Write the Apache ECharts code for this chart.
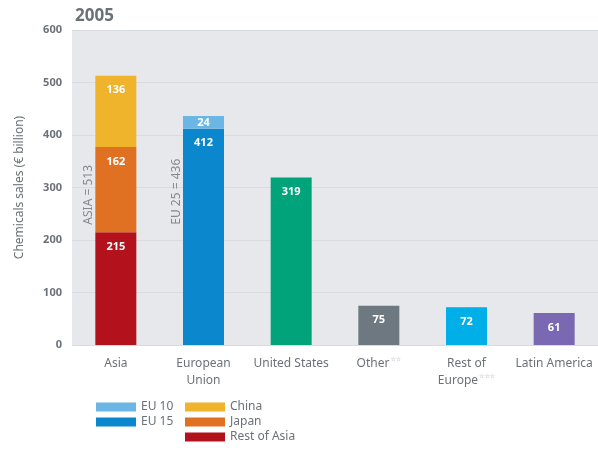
<!DOCTYPE html>
<html>
<head>
<meta charset="utf-8">
<script src="https://cdn.jsdelivr.net/npm/echarts@6/dist/echarts.min.js"></script>
<style>html,body{margin:0;padding:0;background:#fff}#c{width:598px;height:452px}</style>
</head>
<body>
<div id="c"></div>
<script>
const categories = ['Asia', 'European\nUnion', 'United States', 'Other{s|☆☆}', 'Rest of\nEurope{s|☆☆☆}', 'Latin America'];
const restOfAsia = [215, '-', '-', '-', '-', '-'];
const japan = [162, '-', '-', '-', '-', '-'];
const china = [136, '-', '-', '-', '-', '-'];
const eu15 = ['-', 412, '-', '-', '-', '-'];
const eu10 = ['-', 24, '-', '-', '-', '-'];
const singles = ['-', '-', 319, 75, 72, 61];
const singleColors = [null, null, '#00a37a', '#6e7880', '#00aee8', '#7a69b2'];
const yTicks = { min: 0, max: 600, interval: 100 };
const totals = [['Asia', 'ASIA = 513', 286], ['European\nUnion', 'EU 25 = 436', 292]];

const gray = '#6b7178';
const FONT = 'Noto Sans';
const valLabel = { show: true, position: 'insideTop', distance: 9, color: '#fff', fontWeight: 'bold', fontSize: 11, fontFamily: FONT };

function bar(name, data, color, label) {
  return { name, type: 'bar', stack: 'a', data, barWidth: 41, itemStyle: { color }, label: label || valLabel, emphasis: { disabled: true } };
}

const legendCommon = { orient: 'vertical', top: 401, padding: 0, itemWidth: 40, itemHeight: 9, itemGap: 3, itemTextGap: 8, icon: 'rect', selectedMode: false,
  textStyle: { color: gray, fontSize: 12, fontFamily: FONT, lineHeight: 12 } };

const chart = echarts.init(document.getElementById('c'), null, { renderer: 'canvas' });
chart.setOption({
  animation: false,
  backgroundColor: '#fff',
  title: { text: '2005', left: 70, top: 3, textStyle: { color: gray, fontSize: 17, fontWeight: 'bold', fontFamily: FONT } },
  grid: { left: 72, top: 30, width: 531, height: 315, show: true, backgroundColor: '#e6e8eb', borderWidth: 0 },
  legend: [
    Object.assign({ data: ['EU 10', 'EU 15'], left: 96 }, legendCommon),
    Object.assign({ data: ['China', 'Japan', 'Rest of Asia'], left: 185 }, legendCommon)
  ],
  xAxis: {
    type: 'category', data: categories,
    axisLine: { show: false }, axisTick: { show: false },
    axisLabel: { color: gray, fontSize: 12, fontFamily: FONT, lineHeight: 17, margin: 10, interval: 0,
      rich: { s: { fontSize: 6, fontFamily: 'DejaVu Sans', color: '#a0a5aa', lineHeight: 7, padding: [0, 0, 8, 1] } } }
  },
  yAxis: {
    type: 'value', min: yTicks.min, max: yTicks.max, interval: yTicks.interval,
    name: 'Chemicals sales (€ billion)', nameLocation: 'middle', nameGap: 46,
    nameTextStyle: { color: gray, fontSize: 12, fontFamily: FONT },
    axisLine: { show: false }, axisTick: { show: false },
    axisLabel: { color: gray, fontSize: 11, fontWeight: 'bold', fontFamily: FONT, margin: 10 },
    splitLine: { lineStyle: { color: '#d8dbdf', width: 1 } }
  },
  series: [
    bar('Rest of Asia', restOfAsia, '#b3121c'),
    bar('Japan', japan, '#e07022'),
    bar('China', china, '#efb32c'),
    bar('EU 15', eu15, '#0a87cd'),
    bar('EU 10', eu10, '#6cb6e6', Object.assign({}, valLabel, { position: 'inside' })),
    { name: 'single', type: 'bar', stack: 'a', barWidth: 41, label: valLabel, emphasis: { disabled: true },
      data: singles.map((v, i) => ({ value: v, itemStyle: { color: singleColors[i] } })) },
    { name: 'totals', type: 'scatter', symbolSize: 0, silent: true,
      data: totals.map(t => ({ value: [t[0], t[2]], name: t[1] })),
      label: { show: true, formatter: p => p.name, rotate: 90, offset: [0, -27], position: 'inside', color: gray, fontSize: 12, fontFamily: FONT } }
  ]
});
</script>
</body>
</html>
